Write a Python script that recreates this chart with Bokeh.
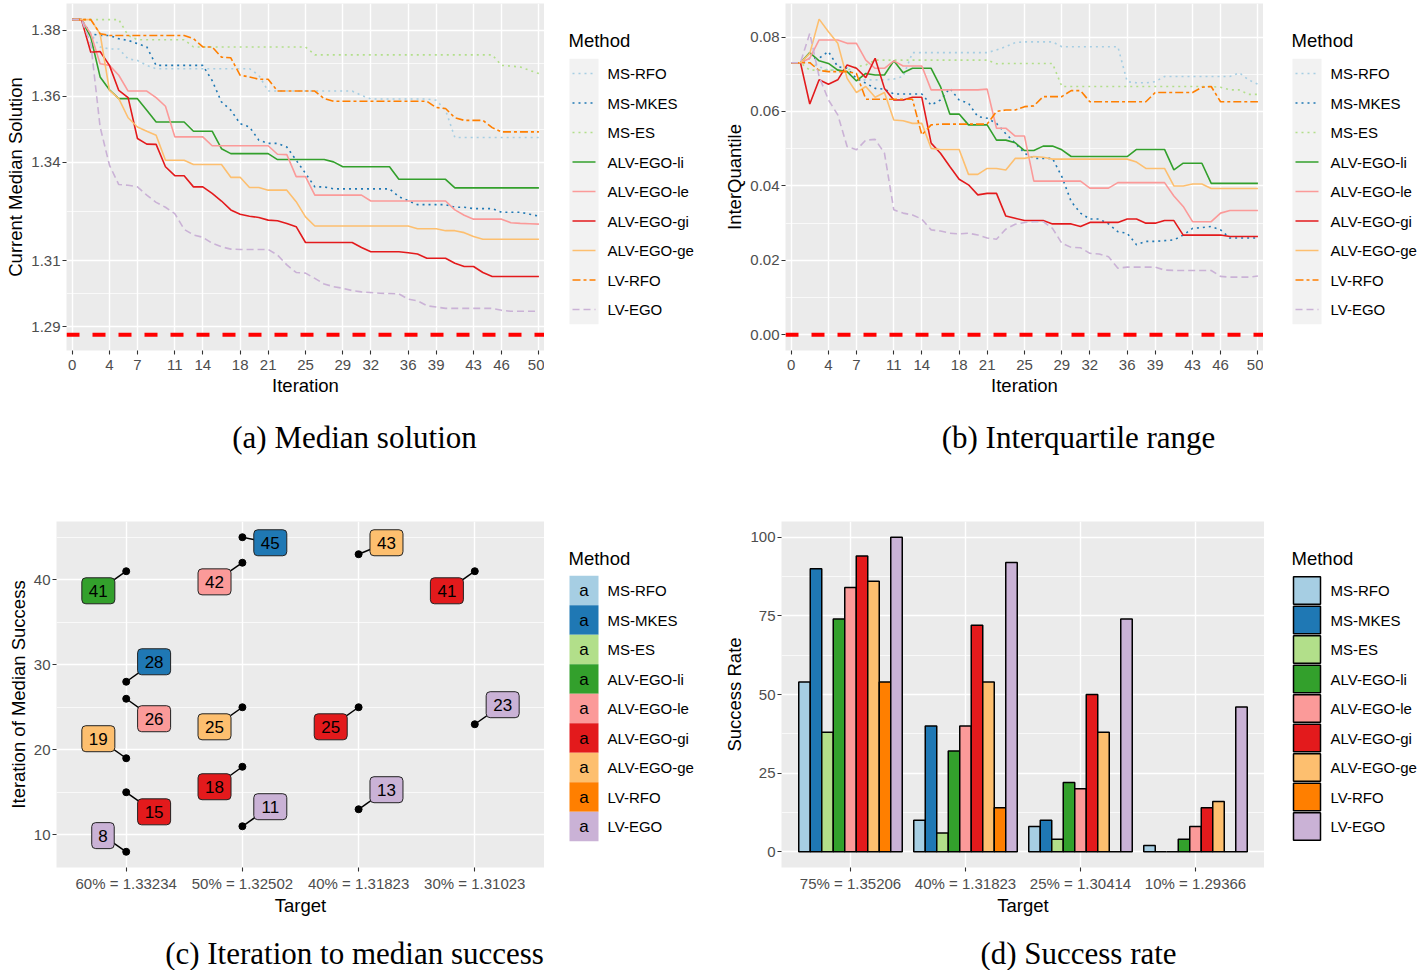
from bokeh.plotting import figure
from bokeh.layouts import column, row
from bokeh.models import Range1d, FixedTicker, PrintfTickFormatter, ColumnDataSource, Span
from bokeh.core.properties import value
from bokeh.embed import file_html
from bokeh.resources import INLINE

SANS = "Liberation Sans"
SERIF = "Liberation Serif"

# ---------------- data ----------------
methods = ["MS-RFO", "MS-MKES", "MS-ES", "ALV-EGO-li", "ALV-EGO-le",
           "ALV-EGO-gi", "ALV-EGO-ge", "LV-RFO", "LV-EGO"]
colors = ["#A6CEE3", "#1F78B4", "#B2DF8A", "#33A02C", "#FB9A99",
          "#E31A1C", "#FDBF6F", "#FF7F00", "#CAB2D6"]
dashes = ["2 4", "2 4", "2 4", "solid", "solid", "solid", "solid", "8 3 3 3", "7 4"]

iterations = list(range(51))
x_breaks = [0, 4, 7, 11, 14, 18, 21, 25, 29, 32, 36, 39, 43, 46, 50]
median_breaks = [1.29, 1.31, 1.34, 1.36, 1.38]
median_minor = [1.30, 1.325, 1.35, 1.37]
iqr_breaks = [0.0, 0.02, 0.04, 0.06, 0.08]
iqr_minor = [0.01, 0.03, 0.05, 0.07]
optimum_median = 1.2876
optimum_iqr = 0.0

med_ms_rfo = [1.3833, 1.3833, 1.3790, 1.3750, 1.3744, 1.3744, 1.3714, 1.3709, 1.3694, 1.3684,
              1.3684, 1.3684, 1.3684, 1.3684, 1.3684, 1.3684, 1.3684, 1.3684, 1.3684, 1.3684,
              1.3664, 1.3616, 1.3616, 1.3616, 1.3616, 1.3616, 1.3616, 1.3616, 1.3616, 1.3616,
              1.3616, 1.3603, 1.3592, 1.3592, 1.3592, 1.3592, 1.3592, 1.3592, 1.3592, 1.3588,
              1.3558, 1.3475, 1.3475, 1.3475, 1.3475, 1.3475, 1.3475, 1.3475, 1.3475, 1.3475,
              1.3475]
med_ms_mkes = [1.3833, 1.3833, 1.3790, 1.3785, 1.3785, 1.3775, 1.3770, 1.3760, 1.3750, 1.3694,
               1.3694, 1.3694, 1.3694, 1.3694, 1.3694, 1.3648, 1.3583, 1.3558, 1.3517, 1.3507,
               1.3467, 1.3457, 1.3457, 1.3446, 1.3406, 1.3366, 1.3325, 1.3325, 1.3319, 1.3319,
               1.3319, 1.3319, 1.3319, 1.3319, 1.3319, 1.3295, 1.3283, 1.3271, 1.3271, 1.3271,
               1.3271, 1.3263, 1.3263, 1.3259, 1.3259, 1.3259, 1.3248, 1.3248, 1.3248, 1.3242,
               1.3236]
med_ms_es = [1.3833, 1.3833, 1.3833, 1.3833, 1.3833, 1.3833, 1.3785, 1.3772, 1.3772, 1.3772,
             1.3772, 1.3772, 1.3772, 1.3750, 1.3750, 1.3750, 1.3750, 1.3750, 1.3750, 1.3750,
             1.3750, 1.3750, 1.3750, 1.3750, 1.3750, 1.3750, 1.3726, 1.3726, 1.3726, 1.3726,
             1.3726, 1.3726, 1.3726, 1.3726, 1.3726, 1.3726, 1.3726, 1.3726, 1.3726, 1.3726,
             1.3726, 1.3726, 1.3726, 1.3726, 1.3726, 1.3726, 1.3694, 1.3692, 1.3689, 1.3679,
             1.3669]
med_alv_li = [1.3833, 1.3833, 1.3780, 1.3659, 1.3620, 1.3593, 1.3593, 1.3593, 1.3558, 1.3522,
              1.3522, 1.3522, 1.3522, 1.3494, 1.3494, 1.3494, 1.3441, 1.3426, 1.3426, 1.3426,
              1.3426, 1.3426, 1.3408, 1.3408, 1.3408, 1.3408, 1.3408, 1.3408, 1.3401, 1.3386,
              1.3386, 1.3386, 1.3386, 1.3386, 1.3386, 1.3348, 1.3348, 1.3348, 1.3348, 1.3348,
              1.3348, 1.3322, 1.3322, 1.3322, 1.3322, 1.3322, 1.3322, 1.3322, 1.3322, 1.3322,
              1.3322]
med_alv_le = [1.3833, 1.3833, 1.3790, 1.3699, 1.3694, 1.3664, 1.3616, 1.3616, 1.3616, 1.3596,
              1.3570, 1.3477, 1.3477, 1.3477, 1.3477, 1.3450, 1.3450, 1.3450, 1.3450, 1.3450,
              1.3450, 1.3450, 1.3424, 1.3423, 1.3356, 1.3356, 1.3300, 1.3300, 1.3300, 1.3300,
              1.3300, 1.3300, 1.3282, 1.3282, 1.3282, 1.3282, 1.3282, 1.3282, 1.3282, 1.3282,
              1.3282, 1.3255, 1.3239, 1.3227, 1.3227, 1.3227, 1.3227, 1.3216, 1.3214, 1.3213,
              1.3212]
med_alv_gi = [1.3833, 1.3833, 1.3734, 1.3736, 1.3694, 1.3618, 1.3596, 1.3472, 1.3455, 1.3454,
              1.3386, 1.3359, 1.3359, 1.3325, 1.3325, 1.3305, 1.3282, 1.3255, 1.3242, 1.3236,
              1.3232, 1.3224, 1.3222, 1.3214, 1.3204, 1.3156, 1.3156, 1.3156, 1.3156, 1.3156,
              1.3156, 1.3141, 1.3128, 1.3128, 1.3128, 1.3128, 1.3125, 1.3121, 1.3108, 1.3108,
              1.3108, 1.3093, 1.3083, 1.3083, 1.3065, 1.3053, 1.3053, 1.3053, 1.3053, 1.3053,
              1.3053]
med_alv_ge = [1.3833, 1.3833, 1.3833, 1.3790, 1.3618, 1.3593, 1.3535, 1.3507, 1.3494, 1.3482,
              1.3406, 1.3406, 1.3406, 1.3393, 1.3393, 1.3393, 1.3393, 1.3354, 1.3354, 1.3323,
              1.3323, 1.3315, 1.3315, 1.3315, 1.3280, 1.3234, 1.3206, 1.3206, 1.3206, 1.3206,
              1.3206, 1.3206, 1.3206, 1.3206, 1.3206, 1.3206, 1.3206, 1.3198, 1.3198, 1.3198,
              1.3192, 1.3192, 1.3186, 1.3174, 1.3166, 1.3166, 1.3166, 1.3166, 1.3166, 1.3166,
              1.3166]
med_lv_rfo = [1.3833, 1.3833, 1.3833, 1.3790, 1.3785, 1.3785, 1.3785, 1.3785, 1.3785, 1.3785,
              1.3785, 1.3785, 1.3785, 1.3775, 1.3750, 1.3750, 1.3719, 1.3717, 1.3664, 1.3659,
              1.3652, 1.3652, 1.3616, 1.3616, 1.3616, 1.3616, 1.3616, 1.3593, 1.3585, 1.3585,
              1.3585, 1.3585, 1.3585, 1.3585, 1.3585, 1.3585, 1.3585, 1.3585, 1.3585, 1.3566,
              1.3563, 1.3535, 1.3527, 1.3527, 1.3527, 1.3505, 1.3492, 1.3492, 1.3492, 1.3492,
              1.3492]
med_lv_ego = [1.3833, 1.3833, 1.3760, 1.3507, 1.3391, 1.3332, 1.3330, 1.3325, 1.3300, 1.3278,
              1.3263, 1.3244, 1.3196, 1.3179, 1.3172, 1.3154, 1.3143, 1.3136, 1.3135, 1.3135,
              1.3135, 1.3135, 1.3118, 1.3088, 1.3065, 1.3063, 1.3047, 1.3030, 1.3022, 1.3017,
              1.3010, 1.3006, 1.3004, 1.3002, 1.3001, 1.3000, 1.2984, 1.2979, 1.2964, 1.2960,
              1.2956, 1.2956, 1.2956, 1.2956, 1.2956, 1.2956, 1.2950, 1.2947, 1.2947, 1.2947,
              1.2947]

iqr_ms_rfo = [0.0731, 0.0731, 0.0731, 0.0720, 0.0711, 0.0711, 0.0711, 0.0685, 0.0685, 0.0685,
              0.0685, 0.0687, 0.0694, 0.0758, 0.0758, 0.0758, 0.0758, 0.0758, 0.0758, 0.0758,
              0.0758, 0.0758, 0.0765, 0.0774, 0.0785, 0.0787, 0.0787, 0.0787, 0.0787, 0.0774,
              0.0774, 0.0774, 0.0774, 0.0774, 0.0774, 0.0774, 0.0680, 0.0677, 0.0677, 0.0680,
              0.0694, 0.0694, 0.0694, 0.0694, 0.0694, 0.0694, 0.0694, 0.0694, 0.0704, 0.0685,
              0.0673]
iqr_ms_mkes = [0.0731, 0.0731, 0.0743, 0.0743, 0.0761, 0.0720, 0.0716, 0.0689, 0.0676, 0.0662,
               0.0660, 0.0647, 0.0647, 0.0647, 0.0647, 0.0617, 0.0631, 0.0662, 0.0631, 0.0622,
               0.0586, 0.0582, 0.0568, 0.0540, 0.0515, 0.0488, 0.0474, 0.0474, 0.0474, 0.0425,
               0.0358, 0.0327, 0.0311, 0.0311, 0.0298, 0.0277, 0.0273, 0.0242, 0.0251, 0.0251,
               0.0253, 0.0255, 0.0268, 0.0286, 0.0288, 0.0291, 0.0282, 0.0260, 0.0260, 0.0260,
               0.0260]
iqr_ms_es = [0.0731, 0.0731, 0.0711, 0.0711, 0.0711, 0.0711, 0.0711, 0.0720, 0.0725, 0.0738,
             0.0738, 0.0738, 0.0738, 0.0738, 0.0738, 0.0738, 0.0738, 0.0738, 0.0738, 0.0738,
             0.0738, 0.0738, 0.0728, 0.0729, 0.0729, 0.0729, 0.0729, 0.0729, 0.0729, 0.0667,
             0.0667, 0.0667, 0.0667, 0.0667, 0.0667, 0.0667, 0.0667, 0.0667, 0.0667, 0.0667,
             0.0667, 0.0667, 0.0667, 0.0667, 0.0667, 0.0667, 0.0665, 0.0658, 0.0658, 0.0646,
             0.0646]
iqr_alv_li = [0.0731, 0.0731, 0.0758, 0.0736, 0.0729, 0.0711, 0.0707, 0.0682, 0.0702, 0.0698,
              0.0698, 0.0736, 0.0704, 0.0716, 0.0716, 0.0716, 0.0667, 0.0593, 0.0593, 0.0564,
              0.0564, 0.0564, 0.0523, 0.0523, 0.0516, 0.0495, 0.0495, 0.0507, 0.0507, 0.0497,
              0.0479, 0.0479, 0.0479, 0.0479, 0.0479, 0.0479, 0.0479, 0.0498, 0.0498, 0.0498,
              0.0498, 0.0443, 0.0461, 0.0461, 0.0461, 0.0407, 0.0407, 0.0407, 0.0407, 0.0407,
              0.0407]
iqr_alv_le = [0.0731, 0.0731, 0.0743, 0.0792, 0.0792, 0.0792, 0.0783, 0.0783, 0.0738, 0.0716,
              0.0716, 0.0736, 0.0722, 0.0722, 0.0722, 0.0658, 0.0658, 0.0658, 0.0658, 0.0658,
              0.0658, 0.0660, 0.0555, 0.0555, 0.0534, 0.0534, 0.0413, 0.0413, 0.0413, 0.0413,
              0.0413, 0.0413, 0.0394, 0.0394, 0.0394, 0.0409, 0.0409, 0.0409, 0.0409, 0.0409,
              0.0409, 0.0373, 0.0345, 0.0304, 0.0304, 0.0304, 0.0327, 0.0334, 0.0334, 0.0334,
              0.0334]
iqr_alv_gi = [0.0731, 0.0731, 0.0620, 0.0685, 0.0673, 0.0685, 0.0725, 0.0716, 0.0691, 0.0743,
              0.0662, 0.0631, 0.0631, 0.0638, 0.0638, 0.0515, 0.0488, 0.0452, 0.0418, 0.0403,
              0.0376, 0.0380, 0.0380, 0.0319, 0.0313, 0.0307, 0.0307, 0.0307, 0.0298, 0.0298,
              0.0298, 0.0291, 0.0302, 0.0302, 0.0302, 0.0302, 0.0311, 0.0311, 0.0300, 0.0300,
              0.0307, 0.0307, 0.0268, 0.0268, 0.0268, 0.0268, 0.0268, 0.0264, 0.0264, 0.0264,
              0.0264]
iqr_alv_ge = [0.0731, 0.0731, 0.0756, 0.0848, 0.0814, 0.0783, 0.0689, 0.0651, 0.0667, 0.0638,
              0.0651, 0.0577, 0.0575, 0.0568, 0.0568, 0.0501, 0.0498, 0.0498, 0.0498, 0.0431,
              0.0431, 0.0447, 0.0447, 0.0443, 0.0474, 0.0474, 0.0479, 0.0477, 0.0472, 0.0472,
              0.0472, 0.0472, 0.0472, 0.0472, 0.0472, 0.0472, 0.0472, 0.0464, 0.0447, 0.0447,
              0.0447, 0.0400, 0.0400, 0.0405, 0.0405, 0.0393, 0.0393, 0.0393, 0.0393, 0.0393,
              0.0393]
iqr_lv_rfo = [0.0731, 0.0731, 0.0731, 0.0710, 0.0707, 0.0707, 0.0707, 0.0702, 0.0633, 0.0633,
              0.0633, 0.0633, 0.0633, 0.0633, 0.0537, 0.0564, 0.0566, 0.0566, 0.0566, 0.0566,
              0.0566, 0.0566, 0.0600, 0.0604, 0.0604, 0.0613, 0.0615, 0.0640, 0.0640, 0.0640,
              0.0656, 0.0656, 0.0626, 0.0626, 0.0626, 0.0626, 0.0626, 0.0626, 0.0626, 0.0651,
              0.0651, 0.0651, 0.0651, 0.0651, 0.0665, 0.0667, 0.0626, 0.0626, 0.0626, 0.0626,
              0.0626]
iqr_lv_ego = [0.0731, 0.0731, 0.0810, 0.0694, 0.0631, 0.0591, 0.0506, 0.0497, 0.0523, 0.0525,
              0.0488, 0.0336, 0.0327, 0.0322, 0.0311, 0.0282, 0.0279, 0.0273, 0.0271, 0.0273,
              0.0268, 0.0260, 0.0257, 0.0284, 0.0297, 0.0302, 0.0304, 0.0304, 0.0286, 0.0246,
              0.0235, 0.0234, 0.0219, 0.0217, 0.0210, 0.0179, 0.0182, 0.0182, 0.0182, 0.0182,
              0.0174, 0.0173, 0.0173, 0.0173, 0.0173, 0.0173, 0.0157, 0.0155, 0.0155, 0.0155,
              0.0158]

median_series = [med_ms_rfo, med_ms_mkes, med_ms_es, med_alv_li, med_alv_le,
                 med_alv_gi, med_alv_ge, med_lv_rfo, med_lv_ego]
iqr_series = [iqr_ms_rfo, iqr_ms_mkes, iqr_ms_es, iqr_alv_li, iqr_alv_le,
              iqr_alv_gi, iqr_alv_ge, iqr_lv_rfo, iqr_lv_ego]

# (c) iteration of median success
c_targets = ["60% = 1.33234", "50% = 1.32502", "40% = 1.31823", "30% = 1.31023"]
c_target_idx = [1, 1, 1, 1, 1, 1, 2, 2, 2, 2, 2, 3, 3, 3, 4, 4]
c_method = ["ALV-EGO-li", "MS-MKES", "ALV-EGO-le", "ALV-EGO-ge", "ALV-EGO-gi", "LV-EGO",
            "MS-MKES", "ALV-EGO-le", "ALV-EGO-ge", "ALV-EGO-gi", "LV-EGO",
            "ALV-EGO-ge", "ALV-EGO-gi", "LV-EGO",
            "ALV-EGO-gi", "LV-EGO"]
c_iteration = [41, 28, 26, 19, 15, 8, 45, 42, 25, 18, 11, 43, 25, 13, 41, 23]
# label repel offsets (category units, iteration units)
c_nudge_x = [-0.24, 0.24, 0.24, -0.24, 0.24, -0.2, 0.24, -0.24, -0.24, -0.24, 0.24,
             0.24, -0.24, 0.24, -0.24, 0.24]
c_nudge_y = [-2.3, 2.35, -2.35, 2.3, -2.3, 1.9, -0.65, -2.25, -2.3, -2.35, 2.3,
             1.35, -2.3, 2.3, -2.3, 2.3]

# (d) success rate
d_targets = ["75% = 1.35206", "40% = 1.31823", "25% = 1.30414", "10% = 1.29366"]
success = {
    "MS-RFO":     [54, 10, 8, 2],
    "MS-MKES":    [90, 40, 10, 0],
    "MS-ES":      [38, 6, 4, 0],
    "ALV-EGO-li": [74, 32, 22, 4],
    "ALV-EGO-le": [84, 40, 20, 8],
    "ALV-EGO-gi": [94, 72, 50, 14],
    "ALV-EGO-ge": [86, 54, 38, 16],
    "LV-RFO":     [54, 14, 0, 0],
    "LV-EGO":     [100, 92, 74, 46],
}

# ---------------- helpers ----------------
def style(p, x_std, x_lab_std):
    p.background_fill_color = "#EBEBEB"
    p.border_fill_color = "white"
    p.outline_line_color = None
    for ax in p.axis:
        ax.axis_line_color = None
        ax.major_tick_line_color = "#333333"
        ax.major_tick_line_width = 1.1
        ax.major_tick_in = 0
        ax.major_tick_out = 4
        ax.minor_tick_line_color = None
        ax.major_label_text_font = SANS
        ax.major_label_text_font_size = "15px"
        ax.major_label_text_color = "#4D4D4D"
        ax.axis_label_text_font = SANS
        ax.axis_label_text_font_size = "18.5px"
        ax.axis_label_text_font_style = "normal"
        ax.axis_label_text_color = "black"
    for ax in p.xaxis:
        ax.major_label_standoff = x_std
        ax.axis_label_standoff = x_lab_std
    for ax in p.yaxis:
        ax.major_label_standoff = 2
        ax.axis_label_standoff = 2
    p.grid.grid_line_color = "white"
    p.grid.grid_line_width = 1.4
    p.ygrid.minor_grid_line_color = "white"
    p.ygrid.minor_grid_line_width = 0.7


def panel(frame_w, frame_h, bl, bt, xr, yr, xlabel, ylabel, x_std, x_lab_std):
    p = figure(frame_width=frame_w, frame_height=frame_h, x_range=xr, y_range=yr,
               toolbar_location=None, output_backend="svg",
               min_border_left=bl, min_border_top=bt, min_border_right=0, min_border_bottom=0,
               x_axis_label=xlabel, y_axis_label=ylabel)
    style(p, x_std, x_lab_std)
    return p


def blank(W, H, bt=0, bb=0):
    p = figure(frame_width=W, frame_height=H, x_range=Range1d(0, W), y_range=Range1d(H, 0),
               x_axis_type=None, y_axis_type=None, toolbar_location=None,
               output_backend="svg", min_border=0, min_border_top=bt, min_border_bottom=bb)
    p.outline_line_color = None
    p.background_fill_color = "white"
    p.border_fill_color = "white"
    return p


def legend_panel(W, H, bt, bb, key_x0, y_title, y_first, kind):
    p = blank(W, H, bt, bb)
    pitch = 29.5
    ys = [y_first + i * pitch for i in range(len(methods))]
    kx0, kx1 = key_x0, key_x0 + 29
    kc = (kx0 + kx1) / 2
    if kind == "line":
        p.quad(left=[kx0], right=[kx1], top=[ys[0] - pitch / 2], bottom=[ys[-1] + pitch / 2],
               fill_color="#F2F2F2", line_color=None)
        for yy, c, d in zip(ys, colors, dashes):
            p.line([kx0 + 3, kx1 - 3], [yy, yy], line_color=c, line_dash=d, line_width=1.6)
    elif kind == "label":
        p.rect(x=[kc] * len(ys), y=ys, width=kx1 - kx0, height=pitch,
               fill_color=colors, line_color=None)
        p.text(x=[kc] * len(ys), y=ys, text=["a"] * len(ys), text_align="center",
               text_baseline="middle", text_font=value(SANS), text_font_size=value("17px"),
               text_color="black")
    else:
        p.rect(x=[kc] * len(ys), y=ys, width=kx1 - kx0 - 2, height=pitch - 2,
               fill_color=colors, line_color="black", line_width=1.5)
    p.text(x=[kx0 - 1], y=[y_title], text=["Method"], text_align="left",
           text_baseline="middle", text_font=value(SANS), text_font_size=value("18.5px"),
           text_color="black")
    p.text(x=[kx1 + 9] * len(ys), y=ys, text=methods, text_align="left",
           text_baseline="middle", text_font=value(SANS), text_font_size=value("15px"),
           text_color="black")
    return p


def line_panel(series, breaks, minor, ylabel, yr, opt, bl, fmt=None):
    p = panel(478, 347, bl, 3, Range1d(-0.6, 50.6), yr, "Iteration", ylabel, 5, 2)
    xt = FixedTicker(ticks=x_breaks)
    p.xaxis.ticker = xt
    p.xgrid.ticker = xt
    yt = FixedTicker(ticks=breaks, minor_ticks=minor)
    p.yaxis.ticker = yt
    p.ygrid.ticker = yt
    if fmt:
        p.yaxis.formatter = PrintfTickFormatter(format=fmt)
    for s, c, d in zip(series, colors, dashes):
        p.line(iterations, s, line_color=c, line_dash=d, line_width=1.6)
    p.add_layout(Span(location=opt, dimension="width", line_color="#FF0000",
                      line_dash="13 13", line_width=4))
    return p


# ---------------- panels (a), (b) ----------------
pa = line_panel(median_series, median_breaks, median_minor, "Current Median Solution",
                Range1d(1.2828, 1.3882), optimum_median, 66)
pb = line_panel(iqr_series, iqr_breaks, iqr_minor, "InterQuantile",
                Range1d(-0.0042, 0.0890), optimum_iqr, 66, fmt="%.2f")
la = legend_panel(175, 347, 3, 48, 25, 37, 70, "line")
lb = legend_panel(158, 347, 3, 48, 29, 37, 70, "line")

# ---------------- panel (c) ----------------
pc = panel(488, 346, 56, 34, Range1d(0.4, 4.6), Range1d(6.15, 46.85), "Target",
           "Iteration of Median Success", 3, 0)
ct = FixedTicker(ticks=[1, 2, 3, 4])
pc.xaxis.ticker = ct
pc.xgrid.ticker = ct
pc.xaxis.major_label_overrides = {i + 1: t for i, t in enumerate(c_targets)}
cyt = FixedTicker(ticks=[10, 20, 30, 40], minor_ticks=[15, 25, 35, 45])
pc.yaxis.ticker = cyt
pc.ygrid.ticker = cyt
c_lx = [t + dx for t, dx in zip(c_target_idx, c_nudge_x)]
c_ly = [v + dy for v, dy in zip(c_iteration, c_nudge_y)]
c_col = [colors[methods.index(m)] for m in c_method]
c_txt = [str(v) for v in c_iteration]
c_w = [12 + 10.5 * len(t) for t in c_txt]
csrc = ColumnDataSource(dict(x=c_target_idx, y=c_iteration, lx=c_lx, ly=c_ly,
                             col=c_col, txt=c_txt, w=c_w))
pc.segment(x0="x", y0="y", x1="lx", y1="ly", source=csrc, line_color="black", line_width=1.5)
pc.scatter(x="x", y="y", source=csrc, size=7, color="black")
try:
    pc.rect(x="lx", y="ly", width="w", height=26, width_units="screen", height_units="screen",
            source=csrc, fill_color="col", line_color="#222222", line_width=1, border_radius=4)
except Exception:
    pc.rect(x="lx", y="ly", width="w", height=26, width_units="screen", height_units="screen",
            source=csrc, fill_color="col", line_color="#222222", line_width=1)
pc.text(x="lx", y="ly", text="txt", source=csrc, text_align="center", text_baseline="middle",
        text_font=value(SANS), text_font_size=value("17px"), text_color="black")
lc = legend_panel(173, 346, 34, 51, 25, 37, 69, "label")

# ---------------- panel (d) ----------------
pd_ = panel(483, 346, 64, 34, Range1d(0.4, 4.6), Range1d(-5, 105), "Target", "Success Rate",
            3, 0)
dt = FixedTicker(ticks=[1, 2, 3, 4])
pd_.xaxis.ticker = dt
pd_.xgrid.ticker = dt
pd_.xaxis.major_label_overrides = {i + 1: t for i, t in enumerate(d_targets)}
dyt = FixedTicker(ticks=[0, 25, 50, 75, 100], minor_ticks=[12.5, 37.5, 62.5, 87.5])
pd_.yaxis.ticker = dyt
pd_.ygrid.ticker = dyt
bx, btop, bcol = [], [], []
n = len(methods)
for mi, m in enumerate(methods):
    for gi, v in enumerate(success[m]):
        bx.append(gi + 1 + (mi - (n - 1) / 2) * 0.1)
        btop.append(v)
        bcol.append(colors[mi])
pd_.vbar(x=bx, top=btop, bottom=0, width=0.1, fill_color=bcol, line_color="black",
         line_width=1.5)
ld = legend_panel(157, 346, 34, 51, 28, 37, 69, "box")

# ---------------- captions ----------------
cap1 = blank(1421, 89)
cap1.text(x=[354, 1078], y=[39, 39], text=["(a) Median solution", "(b) Interquartile range"],
          text_align="center", text_baseline="middle", text_font=value(SERIF),
          text_font_size=value("31px"), text_color="black")
cap2 = blank(1421, 52)
cap2.text(x=[354, 1078], y=[35, 35],
          text=["(c) Iteration to median success", "(d) Success rate"],
          text_align="center", text_baseline="middle", text_font=value(SERIF),
          text_font_size=value("31px"), text_color="black")

layout = column(row(pa, la, pb, lb), cap1, row(pc, lc, pd_, ld), cap2)
open("out.html", "w").write(file_html(layout, INLINE))
